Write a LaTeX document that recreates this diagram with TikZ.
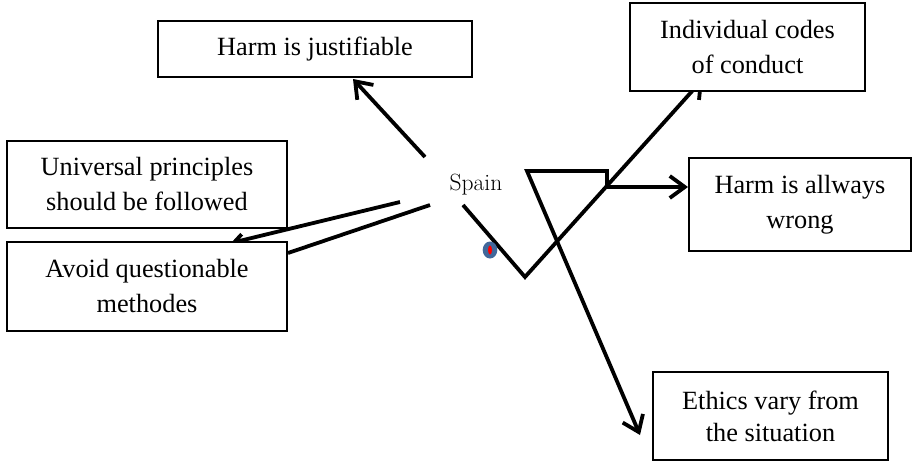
\documentclass[tikz,border=0pt]{standalone}
\usepackage{fontspec}
\newfontfamily\tnr{Liberation Serif}
\usetikzlibrary{arrows.meta,shapes.geometric}
\pgfdeclarelayer{bg}
\pgfsetlayers{bg,main}
\definecolor{dotblue}{HTML}{41679A}
\begin{document}
\begin{tikzpicture}[x=1pt,y=-1pt,
  box/.style={draw, line width=2pt, fill=white, inner sep=0pt, align=center,
    font=\tnr\fontsize{26.3}{35}\selectfont},
  conn/.style={line width=3.8pt},
  arr/.style={conn, -{Straight Barb[length=15pt,width=22pt]}},
  smallarr/.style={conn, -{Straight Barb[length=9pt,width=12pt]}},
]
\useasboundingbox (0,0) rectangle (913,463);
\begin{pgfonlayer}{bg}
\fill[white] (0,0) rectangle (913,463);
\end{pgfonlayer}

% boxes
\node[box, minimum width=314pt, minimum height=56pt] (harmj) at (315,49) {Harm is justifiable};
\node[box, minimum width=235pt, minimum height=88pt] (codes) at (747.5,47) {Individual codes\\of conduct};
\node[box, minimum width=222pt, minimum height=93pt] (wrong) at (800,204.5) {Harm is allways\\wrong};
\node[box, minimum width=280pt, minimum height=87pt] (univ) at (147,184.5) {Universal principles\\should be followed};
\node[box, minimum width=280pt, minimum height=89pt] (avoid) at (147,286.5) {Avoid questionable\\methodes};
\node[box, minimum width=235pt, minimum height=88pt, font=\tnr\fontsize{26.3}{32}\selectfont] (ethics) at (770.5,416) {Ethics vary from\\the situation};

% centre label and dot
\node[anchor=base, inner sep=0pt, font=\fontsize{23.5}{27}\selectfont] (spain) at (476,190) {Spain};
\node[ellipse, fill=dotblue, minimum width=14.6pt, minimum height=17pt, inner sep=0pt] (dot) at (490,250) {};
\node[ellipse, fill=red, minimum width=4pt, minimum height=9pt, inner sep=0pt] (dotin) at (dot.center) {};

% free ends of connectors
\coordinate (a1s) at (425,157);
\coordinate (a1e) at (353,79);
\coordinate (l1s) at (400,202);
\coordinate (l1e) at (231,243);
\coordinate (l2s) at (430,205);
\coordinate (l2e) at (288,253);
\coordinate (zs) at (463,205);
\coordinate (zb) at (525,277);
\coordinate (ze) at (703,79);
\coordinate (hz) at (607,187);
\coordinate (hzt) at (607,171);
\coordinate (rl) at (527,171);
\coordinate (ee) at (640,435);

% connectors partly hidden behind boxes
\begin{pgfonlayer}{bg}
\draw[smallarr] (l1s) -- (l1e);
\draw[conn] (l2s) -- (l2e);
\draw[arr] (zs) -- (zb) -- (ze);
\end{pgfonlayer}

% visible connectors
\draw[arr] (a1s) -- (a1e);
\draw[arr] (hz) -- (wrong.west |- hz);
\draw[arr] (hz) -- (hzt) -- (rl) -- (ee);
\end{tikzpicture}
\end{document}
